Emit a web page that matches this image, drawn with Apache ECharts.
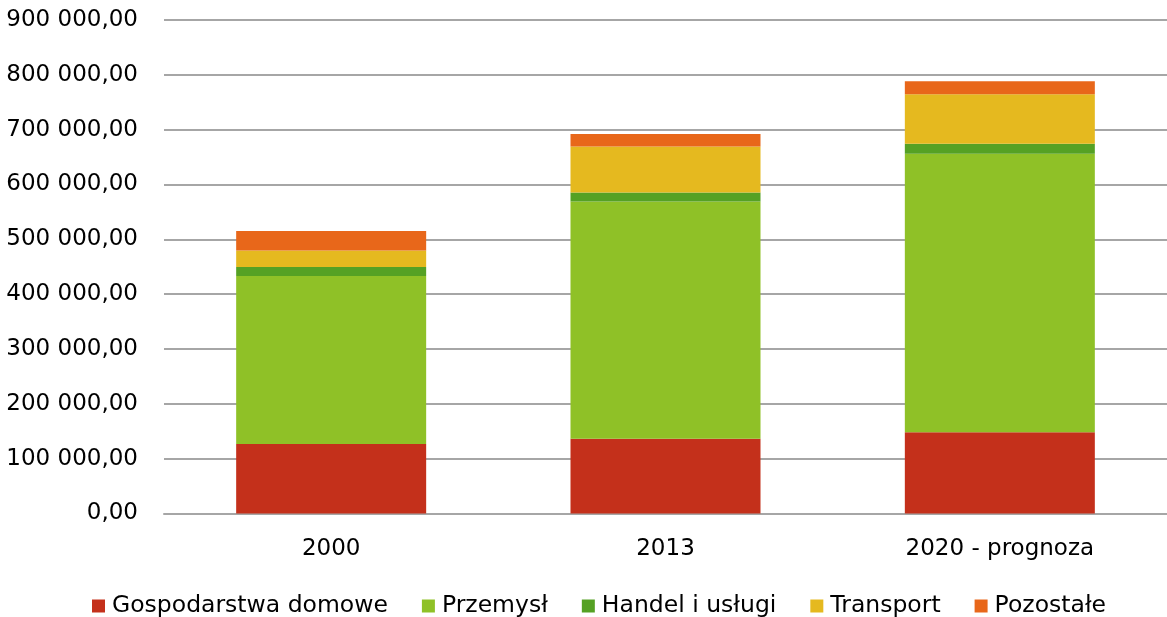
<!DOCTYPE html>
<html>
<head>
<meta charset="utf-8">
<script src="https://cdn.jsdelivr.net/npm/echarts@6/dist/echarts.min.js"></script>
<style>
  html, body { margin: 0; padding: 0; background: #fff; }
  #chart { width: 1167px; height: 617px; }
</style>
</head>
<body>
<div id="chart"></div>
<script>
// Zużycie energii według sektorów
const categories = ['2000', '2013', '2020 - prognoza'];
const gospodarstwaDomowe = [126700, 136400, 148000];
const przemysl = [306300, 432800, 508000];
const handelIUslugi = [16400, 16400, 18200];
const transport = [30400, 83800, 90600];
const pozostale = [35200, 22500, 23700];

const seriesNames = ['Gospodarstwa domowe', 'Przemysł', 'Handel i usługi', 'Transport', 'Pozostałe'];
const seriesData = [gospodarstwaDomowe, przemysl, handelIUslugi, transport, pozostale];
const colors = ['#C4301B', '#8FC127', '#55A124', '#E5B91F', '#E8671A'];

const FONT = 'DejaVu Sans';
const FONT_SIZE = 23;

function formatPl(v) {
  const s = Math.round(v).toString().replace(/\B(?=(\d{3})+(?!\d))/g, ' ');
  return s + ',00';
}

const chart = echarts.init(document.getElementById('chart'));
chart.setOption({
  animation: false,
  color: colors,
  textStyle: { fontFamily: FONT },
  grid: { left: 164, right: 0, top: 20, bottom: 103.5, containLabel: false },
  legend: {
    top: 589,
    left: 87,
    icon: 'rect',
    itemWidth: 13,
    itemHeight: 13,
    itemGap: 34,
    textStyle: { fontFamily: FONT, fontSize: 23.5, color: '#000', padding: [0, 0, 0, 2] },
    data: seriesNames
  },
  xAxis: {
    type: 'category',
    data: categories,
    axisLine: { show: true, lineStyle: { color: '#A6A6A6', width: 2 } },
    axisTick: { show: false },
    axisLabel: { fontFamily: FONT, fontSize: FONT_SIZE, color: '#000', margin: 24 }
  },
  yAxis: {
    type: 'value',
    min: 0,
    max: 900000,
    interval: 100000,
    axisLine: { show: false },
    axisTick: { show: false },
    splitLine: { lineStyle: { color: '#A6A6A6', width: 2 } },
    axisLabel: { fontFamily: FONT, fontSize: FONT_SIZE, color: '#000', margin: 26, formatter: formatPl }
  },
  series: seriesNames.map((name, i) => ({
    name: name,
    type: 'bar',
    stack: 'total',
    barWidth: 190,
    data: seriesData[i]
  }))
});
</script>
</body>
</html>
